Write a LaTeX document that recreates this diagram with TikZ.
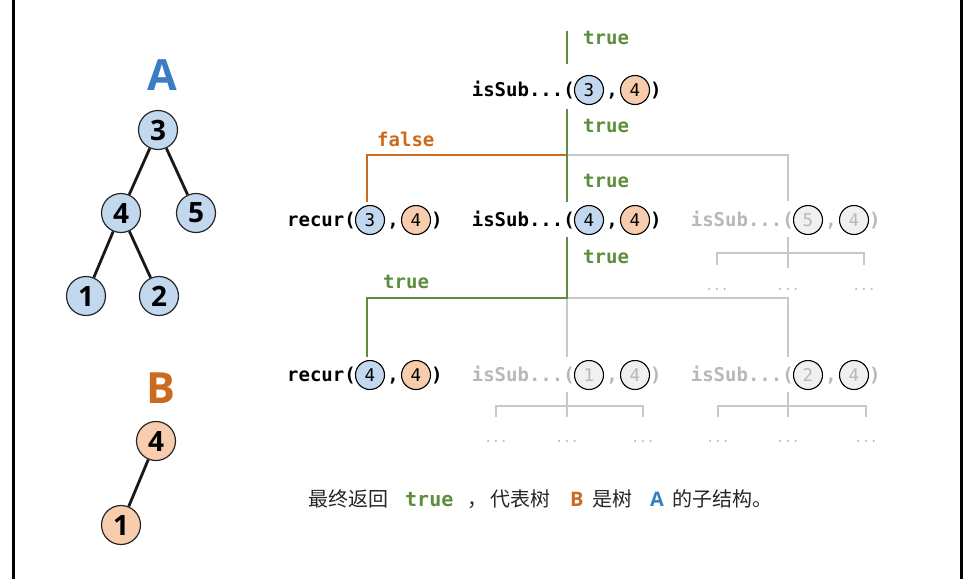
\documentclass[tikz,border=0pt]{standalone}
\usepackage{fontspec}
\setmainfont{Open Sans}
\newfontfamily\monof{DejaVu Sans Mono}
\newfontfamily\cjkf{Noto Sans CJK SC}
\usetikzlibrary{shapes.geometric}
\definecolor{tblue}{HTML}{C2D8EE}
\definecolor{tpeach}{HTML}{F8CDAE}
\definecolor{tgreen}{HTML}{5C8E3B}
\definecolor{torange}{HTML}{CC6A1E}
\definecolor{tAblue}{HTML}{3A7DC0}
\definecolor{lgray}{HTML}{C8C8C8}
\definecolor{gtext}{HTML}{B8B8B8}
\definecolor{gfill}{HTML}{F0F0F0}
\tikzset{
  tnode/.style={circle, draw=black!85, line width=1.2pt, minimum size=39pt, inner sep=0pt, font=\bfseries\fontsize{28}{28}\selectfont},
  tedge/.style={line width=2.8pt, black!90},
  cnode/.style={circle, draw=black, line width=1.1pt, minimum size=29pt, inner sep=0pt, font=\monof\fontsize{17.5}{17.5}\selectfont},
  calltxt/.style={font=\monof\bfseries\fontsize{19}{19}\selectfont, inner sep=0pt, text height=13pt, text depth=4pt},
  greenline/.style={line width=2pt, tgreen},
  orangeline/.style={line width=2pt, torange},
  grayline/.style={line width=2pt, lgray},
  dotstxt/.style={font=\monof\fontsize{13}{13}\selectfont, text=gtext, inner sep=0pt},
  bottxt/.style={font=\cjkf\fontsize{20}{20}\selectfont, inner sep=0pt, anchor=base west, text=black!85},
}
\newcommand{\callrow}[9]{%
  \node[calltxt, text=#9, anchor=base east] (#1p) at (#2-14,#3+6.5) {#4};
  \node[cnode, fill=#6, text=#9] (#1a) at (#2,#3) {#5};
  \node[calltxt, text=#9, anchor=base] (#1c) at (#2+23,#3+6.5) {,};
  \node[cnode, fill=#8, text=#9] (#1b) at (#2+46,#3) {#7};
  \node[calltxt, text=#9, anchor=base west] (#1q) at (#2+61,#3+6.5) {)};
}
\begin{document}
\begin{tikzpicture}[x=1pt, y=-1pt]
\useasboundingbox[fill=white] (0,0) rectangle (966,579);
% frame sides
\draw[line width=3pt, black] (13,0) -- (13,579);
\draw[line width=3pt, black] (961.5,0) -- (961.5,579);

% tree A
\node[font=\bfseries\fontsize{43}{43}\selectfont, text=tAblue, inner sep=0pt] (labA) at (162,75) {A};
\node[tnode, fill=tblue] (a3) at (158,130) {3};
\node[tnode, fill=tblue] (a4) at (121,213) {4};
\node[tnode, fill=tblue] (a5) at (196,213) {5};
\node[tnode, fill=tblue] (a1) at (86,296) {1};
\node[tnode, fill=tblue] (a2) at (159,296) {2};
\draw[tedge] (a3) -- (a4);
\draw[tedge] (a3) -- (a5);
\draw[tedge] (a4) -- (a1);
\draw[tedge] (a4) -- (a2);

% tree B
\node[font=\bfseries\fontsize{43}{43}\selectfont, text=torange, inner sep=0pt] (labB) at (161,388) {B};
\node[tnode, fill=tpeach] (b4) at (156,441) {4};
\node[tnode, fill=tpeach] (b1) at (121,525) {1};
\draw[tedge] (b4) -- (b1);

% call rows
\callrow{r0}{589}{90}{isSub...(}{3}{tblue}{4}{tpeach}{black}
\callrow{rc}{370}{220}{recur(}{3}{tblue}{4}{tpeach}{black}
\callrow{s44}{589}{220}{isSub...(}{4}{tblue}{4}{tpeach}{black}
\callrow{s54}{808}{220}{isSub...(}{5}{gfill}{4}{gfill}{gtext}
\callrow{rd}{370}{375}{recur(}{4}{tblue}{4}{tpeach}{black}
\callrow{s14}{589}{375}{isSub...(}{1}{gfill}{4}{gfill}{gtext}
\callrow{s24}{808}{375}{isSub...(}{2}{gfill}{4}{gfill}{gtext}

% coordinates
\coordinate (top) at (567,31);
\coordinate (topend) at (567,64);
\coordinate (u1) at (567,109);
\coordinate (j1) at (567,155);
\coordinate (jl1) at (367,155);
\coordinate (jr1) at (788,155);
\coordinate (e1l) at (367,202);
\coordinate (e1m) at (567,202);
\coordinate (e1r) at (788,201);
\coordinate (u2) at (567,237);
\coordinate (j2) at (567,298);
\coordinate (jl2) at (367,298);
\coordinate (jr2) at (788,298);
\coordinate (e2l) at (367,357);
\coordinate (e2m) at (567,357);
\coordinate (e2r) at (788,357);

% gray connectors
\draw[grayline] (j1) -- (jr1) -- (e1r);
\draw[grayline] (j2) -- (jr2) -- (e2r);
\draw[grayline] (j2) -- (e2m);

% sub brackets
\coordinate (k1) at (788,237);
\coordinate (k1e) at (788,268);
\coordinate (k1l) at (717,253);
\coordinate (k1r) at (864,253);
\draw[grayline] (k1) -- (k1e);
\draw[grayline] ([yshift=-12pt]k1l) -- (k1l) -- (k1r) -- ([yshift=-12pt]k1r);
\node[dotstxt] (d11) at (717,290) {...};
\node[dotstxt] (d12) at (788,290) {...};
\node[dotstxt] (d13) at (864,290) {...};

\coordinate (k2) at (567,392);
\coordinate (k2e) at (567,417);
\coordinate (k2l) at (496,406);
\coordinate (k2r) at (643,406);
\draw[grayline] (k2) -- (k2e);
\draw[grayline] ([yshift=-11pt]k2l) -- (k2l) -- (k2r) -- ([yshift=-11pt]k2r);
\node[dotstxt] (d21) at (496,442) {...};
\node[dotstxt] (d22) at (567,442) {...};
\node[dotstxt] (d23) at (643,442) {...};

\coordinate (k3) at (788,392);
\coordinate (k3e) at (788,417);
\coordinate (k3l) at (718,406);
\coordinate (k3r) at (866,406);
\draw[grayline] (k3) -- (k3e);
\draw[grayline] ([yshift=-11pt]k3l) -- (k3l) -- (k3r) -- ([yshift=-11pt]k3r);
\node[dotstxt] (d31) at (718,442) {...};
\node[dotstxt] (d32) at (788,442) {...};
\node[dotstxt] (d33) at (866,442) {...};

% colored connectors
\draw[orangeline] (j1) -- (jl1) -- (e1l);
\draw[greenline] (top) -- (topend);
\draw[greenline] (u1) -- (e1m);
\draw[greenline] (u2) -- (j2) -- (jl2) -- (e2l);

% labels
\node[calltxt, text=tgreen, anchor=west] (t0) at (583,39.5) {true};
\node[calltxt, text=tgreen, anchor=west] (t1) at (583,127.5) {true};
\node[calltxt, text=torange, anchor=west] (f1) at (377,141.5) {false};
\node[calltxt, text=tgreen, anchor=west] (t2) at (583,182.5) {true};
\node[calltxt, text=tgreen, anchor=west] (t3) at (583,258.5) {true};
\node[calltxt, text=tgreen, anchor=west] (t4) at (383,283.5) {true};

% bottom sentence
\node[bottxt] (s1) at (308,506) {最终返回};
\node[bottxt, font=\monof\bfseries\fontsize{20}{20}\selectfont, text=tgreen] (s2) at (405,506) {true};
\node[bottxt] (s3) at (467,506) {，};
\node[bottxt] (s4) at (490,506) {代表树};
\node[bottxt, font=\bfseries\fontsize{20}{20}\selectfont, text=torange] (s5) at (570,506) {B};
\node[bottxt] (s6) at (592,506) {是树};
\node[bottxt, font=\bfseries\fontsize{20}{20}\selectfont, text=tAblue] (s7) at (650,506) {A};
\node[bottxt] (s8) at (672,506) {的子结构。};
\end{tikzpicture}
\end{document}
